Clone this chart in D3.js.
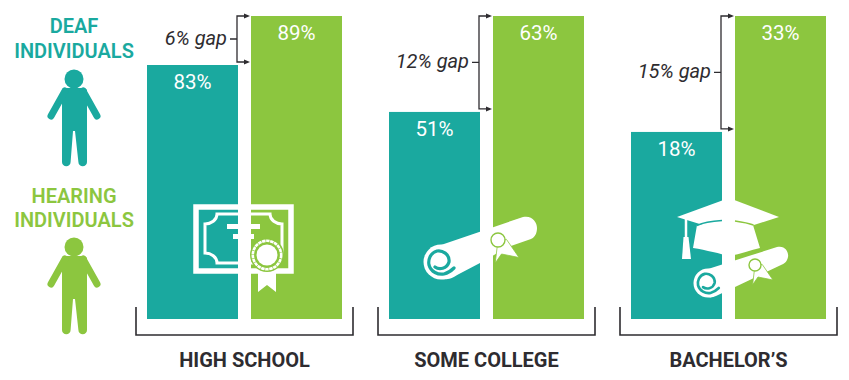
<!DOCTYPE html>
<html>
<head>
<meta charset="utf-8">
<script src="https://cdn.jsdelivr.net/npm/d3@7"></script>
<style>
  body { margin: 0; background: #fff; }
  text { font-family: Roboto, sans-serif; }
</style>
</head>
<body>
<div id="chart"></div>
<script>
// data
var categories = ["HIGH SCHOOL", "SOME COLLEGE", "BACHELOR\u2019S"]
var deafValues = [83, 51, 18]
var hearingValues = [89, 63, 33]
var gapValues = [6, 12, 15]
// the bars are not zero based, each group has its own hidden baseline value
var baselineValues = [51.9, 25.1, -6.2]

var width = 849
var height = 380
var barTop = 16
var barBottom = 319

var teal = "#1aa99f"
var green = "#8cc63f"
var ink = "#2e2c30"

var svg = d3.select("#chart")
  .append("svg")
  .attr("width", width)
  .attr("height", height)

var xGroup = d3.scaleBand().domain(categories).range([147, 826]).paddingInner(47 / 242)
var xBar = d3.scaleBand().domain(["deaf", "hearing"]).range([0, xGroup.bandwidth()]).paddingInner(0.125)

// one y scale per group
var yScales = categories.map(function (c, i) {
  return d3.scaleLinear().domain([baselineValues[i], hearingValues[i]]).range([barBottom, barTop])
})

// bars and value labels
categories.forEach(function (c, i) {
  var g = svg.append("g").attr("transform", "translate(" + xGroup(c) + ",0)")
  var rows = [
    { key: "deaf", value: deafValues[i], color: teal },
    { key: "hearing", value: hearingValues[i], color: green }
  ]
  g.selectAll("rect")
    .data(rows)
    .enter()
    .append("rect")
      .attr("x", function (d) { return xBar(d.key) })
      .attr("y", function (d) { return yScales[i](d.value) })
      .attr("width", xBar.bandwidth())
      .attr("height", function (d) { return barBottom - yScales[i](d.value) })
      .style("fill", function (d) { return d.color })
  g.selectAll("text")
    .data(rows)
    .enter()
    .append("text")
      .attr("x", function (d) { return xBar(d.key) + xBar.bandwidth() / 2 })
      .attr("y", function (d) { return yScales[i](d.value) + 24 })
      .attr("text-anchor", "middle")
      .style("font-size", "20.5px")
      .style("fill", "#fff")
      .text(function (d) { return d.value + "%" })
})

// bottom brackets and category names
categories.forEach(function (c) {
  var left = xGroup(c) - 11
  var right = xGroup(c) + xGroup.bandwidth() + 11
  svg.append("path")
    .attr("d", "M" + left + ",307V335H" + right + "V307")
    .attr("fill", "none")
    .attr("stroke", ink)
    .attr("stroke-width", 1.6)
  svg.append("text")
    .attr("x", (left + right) / 2)
    .attr("y", 367)
    .attr("text-anchor", "middle")
    .style("font-size", "20px")
    .style("font-weight", 700)
    .style("fill", ink)
    .text(c)
})

// gap brackets with small arrow heads
categories.forEach(function (c, i) {
  var bx = xGroup(c) + xBar("deaf") + xBar.bandwidth() - 1
  var ax = xGroup(c) + xBar("hearing") - 1
  var yTop = yScales[i](hearingValues[i])
  var yBot = yScales[i](deafValues[i]) - 3
  var yMid = (yTop + yBot) / 2
  svg.append("path")
    .attr("d", "M" + (ax - 5) + "," + yTop + "H" + bx + "V" + yBot + "H" + (ax - 5)
      + "M" + bx + "," + yMid + "H" + (bx - 7))
    .attr("fill", "none")
    .attr("stroke", ink)
    .attr("stroke-width", 1.3)
  ;[yTop, yBot].forEach(function (y) {
    svg.append("path")
      .attr("d", "M" + ax + "," + y + "l-6,-2.5v5z")
      .attr("fill", ink)
  })
  svg.append("text")
    .attr("x", bx - 10)
    .attr("y", yMid + 6)
    .attr("text-anchor", "end")
    .style("font-size", "20px")
    .style("font-style", "italic")
    .style("fill", ink)
    .text(gapValues[i] + "% gap")
})

// legend on the left
function person(y, color) {
  var g = svg.append("g").attr("transform", "translate(0," + y + ")")
  g.append("circle").attr("cx", 74).attr("cy", 79).attr("r", 9.5).attr("fill", color)
  g.append("path")
    .attr("d", "M64,88H84Q86,88 87,90V162a4.2,4.2 0 0 1 -8.6,0L75,131H73L70.6,162a4.2,4.2 0 0 1 -8.6,0V90Q62,88 64,88Z")
    .attr("fill", color)
  g.append("path")
    .attr("d", "M65,91L51,116M83,91L97,116")
    .attr("fill", "none")
    .attr("stroke", color)
    .attr("stroke-width", 7)
    .attr("stroke-linecap", "round")
}

function legendLabel(lines, ys, color) {
  lines.forEach(function (t, i) {
    svg.append("text")
      .attr("x", 74)
      .attr("y", ys[i])
      .attr("text-anchor", "middle")
      .style("font-size", "20px")
      .style("font-weight", 600)
      .style("fill", color)
      .text(t)
  })
}

legendLabel(["DEAF", "INDIVIDUALS"], [33, 58], teal)
legendLabel(["HEARING", "INDIVIDUALS"], [203, 227], green)
person(0, teal)
person(168, green)

// white icons, drawn in each group's own coordinates
function spiral(g, cx, cy, r, color) {
  var k = r / 17.5
  g.append("circle").attr("cx", cx).attr("cy", cy).attr("r", r).attr("fill", "#fff")
  g.append("path")
    .attr("transform", "translate(" + cx + "," + cy + ") scale(" + k + ")")
    .attr("d", "M-6,5C-2,8 6,7 8,0C9,-8 1,-12 -4,-11C-11,-9 -13,-2 -12,3C-10,10 -3,13 3,12C7,11 10,9 13,6")
    .attr("fill", "none")
    .attr("stroke", color)
    .attr("stroke-width", 3.2)
    .attr("stroke-linecap", "round")
}

function seal(g, cx, cy, r) {
  g.append("path")
    .attr("d", "M" + cx + "," + cy + "l" + (-r * 0.4) + "," + (r * 3.3) + "l" + (r * 0.9) + "," + (-r * 1.3)
      + "l" + (r * 2.5) + "," + (r * 0.5) + "l" + (-r * 1.8) + "," + (-r * 2.6) + "z")
    .attr("fill", "#fff")
    .attr("stroke", green)
    .attr("stroke-width", 0.8)
  g.append("circle").attr("cx", cx).attr("cy", cy).attr("r", r)
    .attr("fill", "#fff").attr("stroke", green).attr("stroke-width", 1.4)
}

function diploma(g) {
  g.append("rect").attr("x", 49).attr("y", 207).attr("width", 95).attr("height", 64)
    .attr("fill", "none").attr("stroke", "#fff").attr("stroke-width", 5.5)
  g.append("path")
    .attr("d", "M70,214H123C123,220 129,224 135,224V253C129,253 123,257 123,263H70C70,257 64,253 58,253V224C64,224 70,220 70,214Z")
    .attr("fill", "none").attr("stroke", "#fff").attr("stroke-width", 3)
  g.append("rect").attr("x", 80).attr("y", 224).attr("width", 33).attr("height", 5).attr("fill", "#fff")
  g.append("rect").attr("x", 86).attr("y", 234).attr("width", 21).attr("height", 5).attr("fill", "#fff")
  // medal and ribbon
  g.append("path").attr("d", "M111,268H129V292L120,285L111,292Z").attr("fill", "#fff")
  g.append("circle").attr("cx", 120).attr("cy", 255).attr("r", 17).attr("fill", green)
  g.append("circle").attr("cx", 120).attr("cy", 255).attr("r", 14.2)
    .attr("fill", "none").attr("stroke", "#fff").attr("stroke-width", 2.6).attr("stroke-dasharray", "3.5 0.6")
  g.append("circle").attr("cx", 120).attr("cy", 255).attr("r", 10.5).attr("fill", "#fff")
}

function scroll(g) {
  g.append("path")
    .attr("d", "M52,245L134,217C143,215 148,222 148,228C148,233 146,237 142,239L119,247L91,263L70,274C62,279 58,280 52,279Z")
    .attr("fill", "#fff")
  spiral(g, 52, 262, 17.5, teal)
  seal(g, 109, 240, 7)
}

function capAndScroll(g) {
  // rolled paper behind the cap
  g.append("path")
    .attr("d", "M77,269L146,247C154,245 158,252 157,257C156,262 153,264 150,265L104,287L85,296C82,297 80,298 77,297Z")
    .attr("fill", "#fff")
  spiral(g, 77, 283, 14.5, teal)
  seal(g, 124, 265, 6)
  // cap
  g.append("path")
    .attr("d", "M66,225L62,248C75,250 90,254 98,256C110,254 120,250 129,248L122,225Z")
    .attr("fill", "#fff")
  g.append("path").attr("d", "M46,217L98,198L148,217L98,233Z").attr("fill", "#fff")
  g.append("path").attr("d", "M66,225.5C72,222.5 82,221 91,220.5").attr("fill", "none").attr("stroke", teal).attr("stroke-width", 1.5)
  g.append("path").attr("d", "M104,221C111,222 117,223 122.5,225").attr("fill", "none").attr("stroke", green).attr("stroke-width", 1.5)
  // tassel
  g.append("path").attr("d", "M55,219V238").attr("stroke", "#fff").attr("stroke-width", 2.5)
  g.append("path").attr("d", "M52.5,237H57.5L60,259H51Z").attr("fill", "#fff")
}

var icons = [diploma, scroll, capAndScroll]
categories.forEach(function (c, i) {
  icons[i](svg.append("g").attr("transform", "translate(" + xGroup(c) + ",0)"))
})
</script>
</body>
</html>
